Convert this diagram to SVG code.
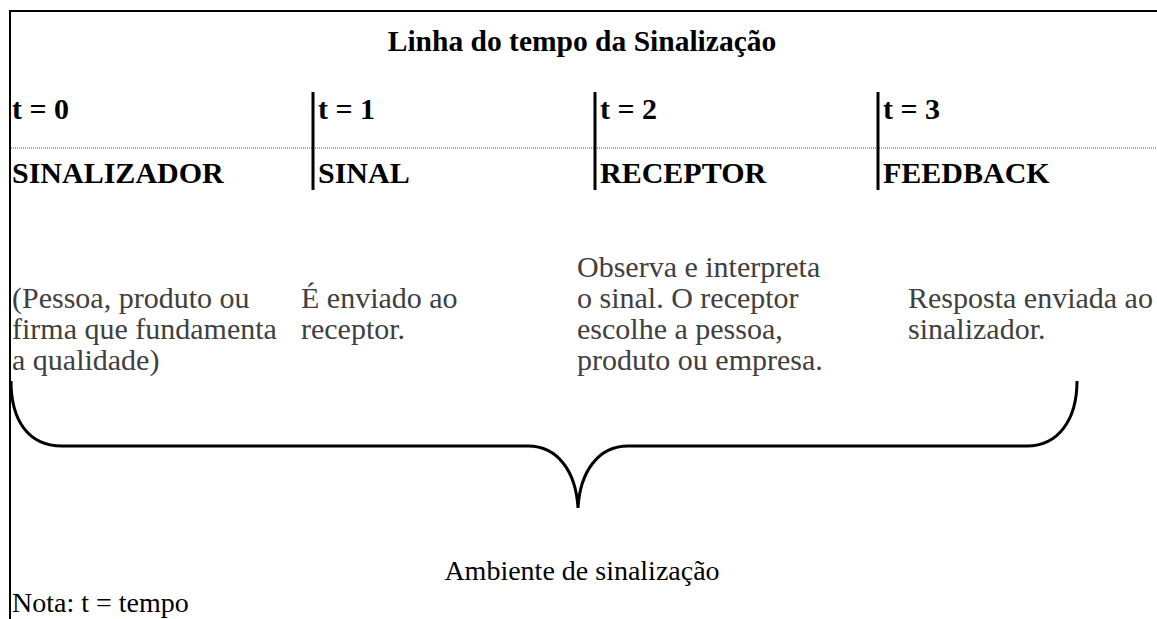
<svg xmlns="http://www.w3.org/2000/svg" width="1157" height="619" viewBox="0 0 1157 619">
<style>
.t{font-family:"Liberation Serif","Times New Roman",serif;font-size:30px;}
.b{font-weight:bold;fill:#000;}
.d{fill:#404040;}
.k{fill:#000;font-size:28px;}
.ttl{font-size:29.5px;}
.sep{stroke:#000;stroke-width:3;}
</style>
<rect width="1157" height="619" fill="#fff"/>
<g id="frame">
<line x1="9" y1="11" x2="1157" y2="11" stroke="#000" stroke-width="2"/>
<line x1="10" y1="10" x2="10" y2="619" stroke="#000" stroke-width="2"/>
<line x1="11" y1="148" x2="1157" y2="148" stroke="#555" stroke-width="1" stroke-dasharray="1,1"/>
</g>
<g id="title"><text class="t b ttl" x="582" y="51" text-anchor="middle">Linha do tempo da Sinalização</text></g>
<g id="separators">
<line class="sep" x1="313" y1="92" x2="313" y2="190"/>
<line class="sep" x1="595" y1="92" x2="595" y2="190"/>
<line class="sep" x1="878" y1="92" x2="878" y2="190"/>
</g>
<g id="col0">
<text class="t b" x="12" y="119">t = 0</text>
<text class="t b" x="12" y="183">SINALIZADOR</text>
<text class="t d" x="12" y="308">(Pessoa, produto ou</text>
<text class="t d" x="12" y="339">firma que fundamenta</text>
<text class="t d" x="12" y="370">a qualidade)</text>
</g>
<g id="col1">
<text class="t b" x="318" y="119">t = 1</text>
<text class="t b" x="318" y="183">SINAL</text>
<text class="t d" x="301" y="308">É enviado ao</text>
<text class="t d" x="301" y="339">receptor.</text>
</g>
<g id="col2">
<text class="t b" x="600" y="119">t = 2</text>
<text class="t b" x="600" y="183">RECEPTOR</text>
<text class="t d" x="577" y="277">Observa e interpreta</text>
<text class="t d" x="577" y="308">o sinal. O receptor</text>
<text class="t d" x="577" y="339">escolhe a pessoa,</text>
<text class="t d" x="577" y="370">produto ou empresa.</text>
</g>
<g id="col3">
<text class="t b" x="883" y="119">t = 3</text>
<text class="t b" x="883" y="183">FEEDBACK</text>
<text class="t d" x="908" y="308">Resposta enviada ao</text>
<text class="t d" x="908" y="339">sinalizador.</text>
</g>
<g id="connectors">
<path d="M11,381 C11,420 28,446 62,446 L528,446 C558,446 576,472 578,508 C580,472 598,446 628,446 L1027,446 C1058,446 1077,420 1077,381" fill="none" stroke="#000" stroke-width="3"/>
</g>
<g id="footer">
<text class="t k" x="582" y="580" text-anchor="middle">Ambiente de sinalização</text>
<text class="t k" x="12" y="612">Nota: t = tempo</text>
</g>
</svg>
